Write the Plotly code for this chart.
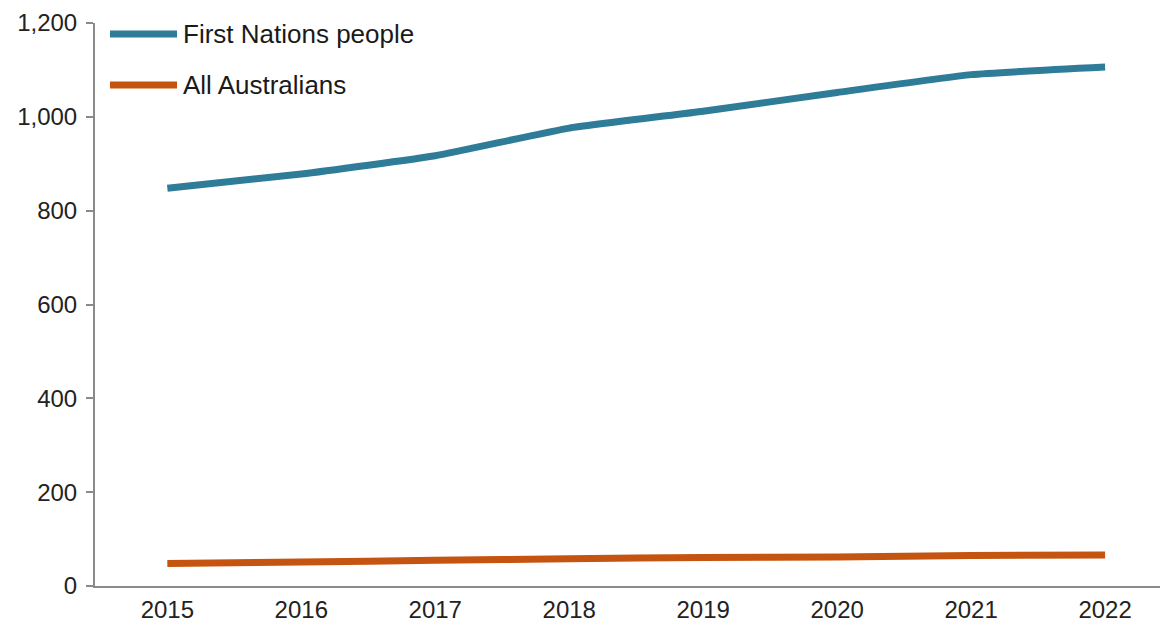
import plotly.graph_objects as go

years = [2015, 2016, 2017, 2018, 2019, 2020, 2021, 2022]
first_nations = [848, 878, 917, 976, 1012, 1052, 1090, 1106]
all_australians = [48, 51, 55, 58, 61, 62, 65, 66]
series_names = ["First Nations people", "All Australians"]
colors = ["#2E7C98", "#C4540F"]
y_ticks = [0, 200, 400, 600, 800, 1000, 1200]

fig = go.Figure()
for name, vals, col in zip(series_names, [first_nations, all_australians], colors):
    fig.add_trace(go.Scatter(
        x=years, y=vals, name=name, mode="lines",
        line=dict(color=col, width=7, shape="spline", smoothing=0.4),
        showlegend=False,
    ))

# hand-built legend: long line samples with labels, top-left inside the plot
W, H = 1166, 627
ml, mr, mt, mb = 95, 6, 23, 41
pw, ph = W - ml - mr, H - mt - mb
legend_y = [34, 85]
for name, col, yy in zip(series_names, colors, legend_y):
    yp = 1 - (yy - mt) / ph
    x0 = (110 - ml) / pw
    x1 = (177 - ml) / pw
    fig.add_shape(type="line", xref="paper", yref="paper", x0=x0, x1=x1, y0=yp, y1=yp,
                  line=dict(color=col, width=7), layer="above")
    fig.add_annotation(xref="paper", yref="paper", x=(181 - ml) / pw, y=yp,
                       text=name, showarrow=False, xanchor="left", yanchor="middle",
                       font=dict(size=26, color="#1a1a1a", family="Liberation Sans, Arial"))

fig.update_layout(
    width=W, height=H,
    margin=dict(l=ml, r=mr, t=mt, b=mb),
    paper_bgcolor="white", plot_bgcolor="white",
    font=dict(family="Liberation Sans, Arial", size=24, color="#222222"),
    xaxis=dict(
        range=[2014.46, 2022.41], tickmode="array", tickvals=years,
        ticktext=[str(y) for y in years], automargin=False,
        showgrid=False, zeroline=False, showline=True, linecolor="#8a8a8a", linewidth=2,
        ticks="", ticklabelstandoff=1,
    ),
    yaxis=dict(
        range=[0, 1200], tickmode="array", tickvals=y_ticks,
        ticktext=[f"{v:,}" for v in y_ticks], automargin=False,
        showgrid=False, zeroline=False, showline=True, linecolor="#8a8a8a", linewidth=2,
        ticks="outside", ticklen=7, tickcolor="#8a8a8a", tickwidth=2,
        ticklabelstandoff=4,
    ),
)

fig.write_html("out.html")
